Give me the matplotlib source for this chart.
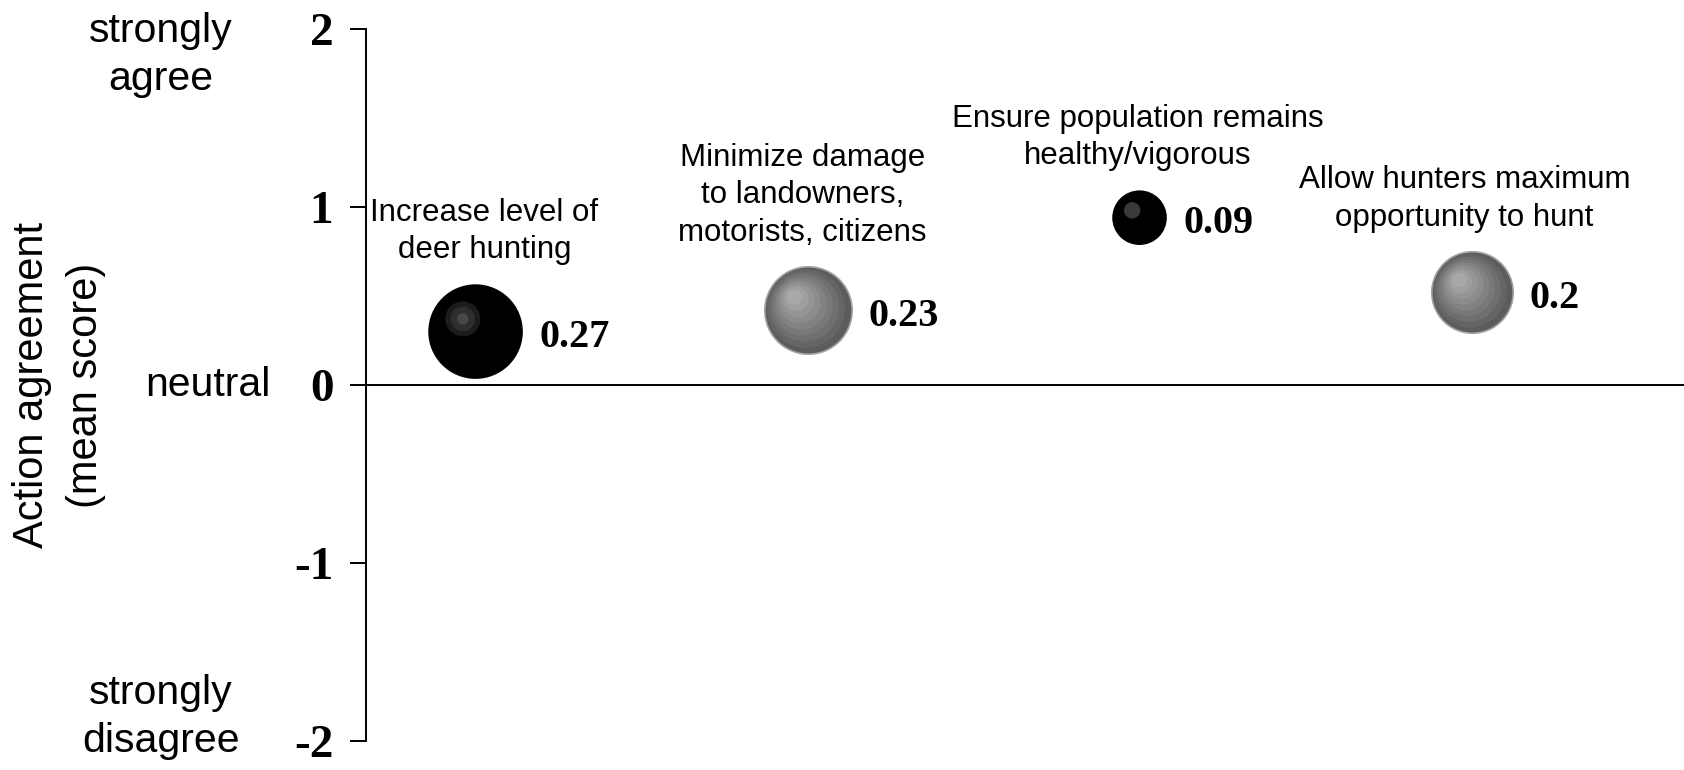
import matplotlib
matplotlib.use("Agg")
import numpy as np
import matplotlib.pyplot as plt
from matplotlib import transforms

# data
actions = ["Increase level of\ndeer hunting",
           "Minimize damage\nto landowners,\nmotorists, citizens",
           "Ensure population remains\nhealthy/vigorous",
           "Allow hunters maximum\nopportunity to hunt"]
xpos = [1, 2, 3, 4]
agreement = [0.30, 0.42, 0.94, 0.52]
weights = [0.27, 0.23, 0.09, 0.2]
weight_labels = ["0.27", "0.23", "0.09", "0.2"]
shades = ["black", "gray", "black", "gray"]

yticks = [-2, -1, 0, 1, 2]
scale_words = {2: "strongly\nagree", 0: "neutral", -2: "strongly\ndisagree"}

# small horizontal nudges of the action labels (pixels)
label_dx = [9, -5, -2, -7]

DPI = 100
fig = plt.figure(figsize=(16.84, 7.70), dpi=DPI)
ax = fig.add_axes([366 / 1684, (770 - 741) / 770, 1 - 366 / 1684, 712 / 770])

ax.set_xlim(0.67, 4.64)
ax.set_ylim(-2, 2)

for s in ["top", "right"]:
    ax.spines[s].set_visible(False)
ax.spines["bottom"].set_position(("data", 0))
ax.spines["left"].set_linewidth(1.4)
ax.spines["bottom"].set_linewidth(1.4)
ax.set_xticks([])
ax.set_yticks(yticks)
ax.set_yticklabels([str(t) for t in yticks], family="Liberation Serif",
                   fontweight="bold", fontsize=34)
ax.tick_params(axis="y", direction="out", length=11.5, width=1.4, pad=12)

# bubble area proportional to weight; diameter ~182 px for weight 1
diam_px = 182
s_scale = (diam_px * 72 / DPI) ** 2


def shifted(dx_px, dy_px):
    return transforms.offset_copy(ax.transData, fig=fig, x=dx_px, y=dy_px, units="dots")


for x, y, w, shade in zip(xpos, agreement, weights, shades):
    r = diam_px * np.sqrt(w) / 2
    base = w * s_scale
    if shade == "gray":
        # stepped radial shading, highlight towards the upper left
        n = 9
        cols = np.linspace(0.36, 0.66, n)
        for k in range(n):
            t = k / (n - 1)
            f = 1 - 0.82 * t
            off = 0.30 * r * t
            ec = "#a0a0a0" if k == 0 else "none"
            ax.scatter([x], [y], s=base * f ** 2, color=str(cols[k]),
                       edgecolors=ec, linewidths=1.2,
                       transform=shifted(-off, off), zorder=3 + k * 0.01)
    else:
        ax.scatter([x], [y], s=base, color="black", edgecolors="none", zorder=3)
        if w > 0.15:
            spots = [(0.37, "#1c1c1c"), (0.26, "#2e2e2e"), (0.12, "#484848")]
        else:
            spots = [(0.30, "#3a3a3a")]
        for k, (f, c) in enumerate(spots):
            off = 0.27 * r
            ax.scatter([x], [y], s=base * f ** 2, color=c, edgecolors="none",
                       transform=shifted(-off, off), zorder=3.1 + k * 0.01)

for x, y, w, lab, act, dx in zip(xpos, agreement, weights, weight_labels, actions, label_dx):
    r = diam_px * np.sqrt(w) / 2
    ax.annotate(lab, (x, y), xytext=(r + 17, -6), textcoords="offset pixels",
                ha="left", va="center", family="Liberation Serif",
                fontweight="bold", fontsize=29)
    ax.annotate(act, (x, y), xytext=(dx, r + 19), textcoords="offset pixels",
                ha="center", va="bottom", family="Liberation Sans",
                fontsize=22.5, linespacing=1.32)

# verbal anchors of the scale
side = transforms.blended_transform_factory(fig.transFigure, ax.transData)
ax.annotate(scale_words[2], (161 / 1684, 2), xycoords=side, xytext=(0, -26),
            textcoords="offset pixels", ha="center", va="center",
            family="Liberation Sans", fontsize=29.5, linespacing=1.33,
            annotation_clip=False)
ax.annotate(scale_words[0], (208 / 1684, 0), xycoords=side, xytext=(0, 0),
            textcoords="offset pixels", ha="center", va="center",
            family="Liberation Sans", fontsize=29.5, annotation_clip=False)
ax.annotate(scale_words[-2], (161 / 1684, -2), xycoords=side, xytext=(0, 24),
            textcoords="offset pixels", ha="center", va="center",
            family="Liberation Sans", fontsize=29.5, linespacing=1.33,
            annotation_clip=False)

ax.text(59 / 1684, 0, "Action agreement\n(mean score)", transform=side,
        rotation=90, ha="center", va="center", multialignment="center",
        family="Liberation Sans", fontsize=30, linespacing=1.45)

fig.savefig("out.png", dpi=DPI)
